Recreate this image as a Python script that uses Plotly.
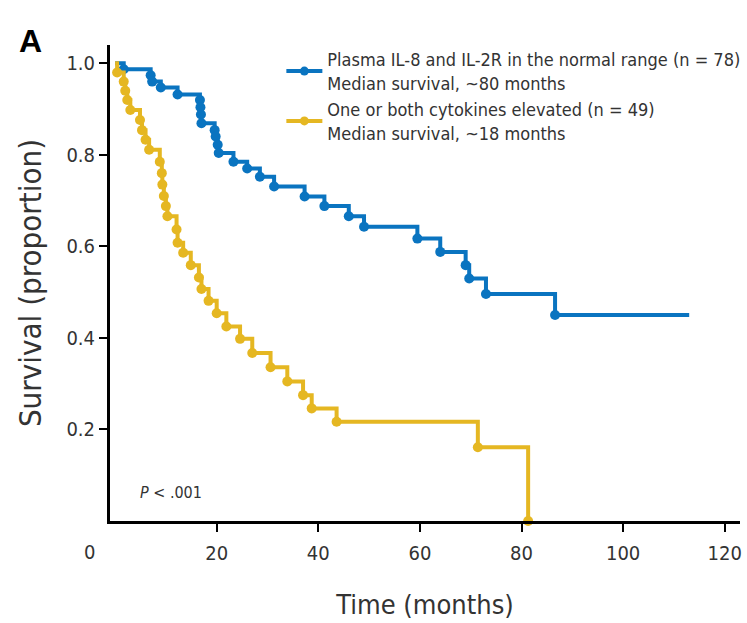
import plotly.graph_objects as go

# Kaplan-Meier estimates: time (months) and survival proportion after each step
normal_time = [0, 1.7, 7.0, 7.3, 9.0, 12.3, 16.7, 16.8, 16.9, 17.0, 19.6, 19.8, 20.2, 20.4,
               23.3, 26.0, 28.5, 31.3, 37.3, 41.2, 46.0, 49.0, 59.5, 64.0, 69.0, 69.7,
               73.0, 86.6]
normal_surv = [1.0, 0.987, 0.974, 0.960, 0.947, 0.932, 0.920, 0.904, 0.888, 0.869, 0.854,
               0.840, 0.822, 0.804, 0.785, 0.770, 0.752, 0.731, 0.709, 0.688, 0.666, 0.643,
               0.617, 0.588, 0.559, 0.530, 0.496, 0.450]
normal_last_followup = 113.0

elev_time = [0, 0.4, 1.7, 2.0, 2.4, 3.0, 4.9, 5.3, 6.0, 6.7, 8.8, 9.2, 9.3, 9.6, 10.0,
             10.3, 12.1, 12.3, 13.4, 14.9, 16.5, 17.0, 18.4, 20.0, 21.9, 24.6, 27.0,
             30.6, 33.9, 37.0, 38.7, 43.6, 71.4, 81.3]
elev_surv = [1.0, 0.980, 0.960, 0.940, 0.920, 0.898, 0.876, 0.854, 0.833, 0.811, 0.785,
             0.760, 0.735, 0.710, 0.688, 0.666, 0.637, 0.608, 0.586, 0.559, 0.532, 0.507,
             0.481, 0.454, 0.425, 0.398, 0.367, 0.336, 0.305, 0.275, 0.246, 0.217, 0.161,
             0.0]

legend_normal = "Plasma IL-8 and IL-2R in the normal range (n = 78)<br>Median survival, ~80 months"
legend_elev = "One or both cytokines elevated (n = 49)<br>Median survival, ~18 months"

x_ticks = [20, 40, 60, 80, 100, 120]
y_ticks = [0.2, 0.4, 0.6, 0.8, 1.0]

BLUE = "#0A74C0"
YELLOW = "#E5B722"
FONT = "Liberation Sans Narrow, Arial Narrow, DejaVu Sans Condensed, sans-serif"
TEXT = "#333333"

fig = go.Figure()

def add_group(times, surv, end_time, color, name):
    xs = list(times) + ([end_time] if end_time is not None else [])
    ys = list(surv) + ([surv[-1]] if end_time is not None else [])
    fig.add_trace(go.Scatter(x=xs, y=ys, mode="lines", line=dict(color=color, width=4, shape="hv"),
                             showlegend=False, hoverinfo="skip", cliponaxis=False))
    fig.add_trace(go.Scatter(x=times[1:], y=surv[1:], mode="markers",
                             marker=dict(color=color, size=10), showlegend=False,
                             cliponaxis=False))
    fig.add_trace(go.Scatter(x=[None], y=[None], mode="lines+markers", name=name,
                             line=dict(color=color, width=4), marker=dict(color=color, size=9)))

add_group(normal_time, normal_surv, normal_last_followup, BLUE, legend_normal)
add_group(elev_time, elev_surv, None, YELLOW, legend_elev)

fig.update_layout(
    width=747, height=623,
    margin=dict(l=110, r=7, t=45, b=102, autoexpand=False),
    paper_bgcolor="white", plot_bgcolor="white",
    font=dict(family=FONT, color=TEXT, size=18),
    legend=dict(x=0.272, y=1.008, xanchor="left", yanchor="top", bgcolor="rgba(0,0,0,0)",
                font=dict(size=18, color=TEXT), tracegroupgap=5, itemwidth=36),
    xaxis=dict(range=[-1, 123], tickvals=x_ticks, ticks="outside", ticklen=8, tickwidth=2,
               tickcolor="black", showline=True, linecolor="black", linewidth=3,
               showgrid=False, zeroline=False, tickfont=dict(size=20, color=TEXT),
               ticklabelstandoff=4,
               title=dict(text="Time (months)", font=dict(size=27, color=TEXT), standoff=32)),
    yaxis=dict(range=[0, 1.04], tickvals=y_ticks, tickformat=".1f", ticks="outside", ticklen=8,
               tickwidth=2, tickcolor="black", showline=True, linecolor="black", linewidth=3,
               showgrid=False, zeroline=False, tickfont=dict(size=20, color=TEXT),
               title=dict(text="Survival (proportion)", font=dict(size=31, color=TEXT),
                          standoff=16)),
    annotations=[
        dict(text="0", x=-0.032, y=-0.065, xref="paper", yref="paper", xanchor="center",
             yanchor="middle", showarrow=False, font=dict(size=20, color=TEXT)),
        dict(text="<i>P</i> < .001", x=0.045, y=0.035, xref="paper", yref="paper",
             xanchor="left", showarrow=False, font=dict(size=16, color=TEXT)),
        dict(text="<b>A</b>", x=-0.148, y=1.05, xref="paper", yref="paper",
             xanchor="left", showarrow=False, font=dict(size=32, color="black",
             family="Liberation Sans, Arial, sans-serif")),
    ],
)

fig.write_html("out.html")
